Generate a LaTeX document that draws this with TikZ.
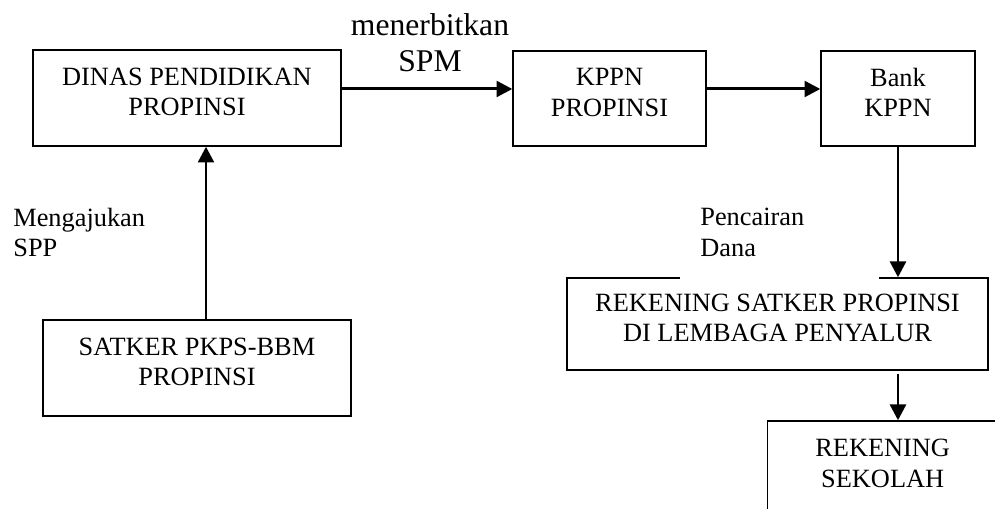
\documentclass[tikz,border=0pt]{standalone}
\usepackage{fontspec}
\setmainfont{Liberation Serif}
\usetikzlibrary{
  calc,
  positioning,
  arrows.meta
}

\begin{document}
\begin{tikzpicture}[x=0.02cm, y=0.02cm, >={Triangle[length=9pt,width=9pt]}]
  \tikzset{
    kotak/.style={draw, line width=0.8pt, align=center, inner sep=0pt,
      text depth=0.25cm, font=\fontsize{15}{17.5}\selectfont},
    panah/.style={->, line width=1.7pt},
    ket/.style={align=left, inner sep=0pt, font=\fontsize{15}{17.5}\selectfont},
    % judul/.style={font=\large}
  }
\useasboundingbox (0,0) rectangle (995,509);
\clip (0,0) rectangle (995,509);

\node[kotak, minimum width=6.16cm, minimum height=1.92cm] (dinas) at (187,411) {DINAS PENDIDIKAN\\PROPINSI};
\node[kotak, minimum width=3.86cm, minimum height=1.9cm] (kppn) at (609.5,410.5) {KPPN\\PROPINSI};
\node[kotak, minimum width=3.08cm, minimum height=1.9cm] (bank) at (898,410.5) {Bank\\KPPN};
\node[kotak, minimum width=6.16cm, minimum height=1.92cm] (satker) at (197,141) {SATKER PKPS-BBM\\PROPINSI};
\node[kotak, minimum width=8.42cm, minimum height=1.84cm] (rekprop) at (777.5,185) {REKENING SATKER PROPINSI\\DI LEMBAGA PENYALUR};
\node[kotak, text width=4.6cm, text height=0.72cm, text depth=3cm, anchor=base west] (sekolah) at (767,52) {REKENING\\SEKOLAH};

% keterangan
\node[align=center, inner sep=0pt, font=\fontsize{18}{21}\selectfont, anchor=base] (spm) at (430,437) {menerbitkan\\SPM};
\node[ket, anchor=base west] (ajukan) at (13,252) {Mengajukan\\SPP};
\node[ket, fill=white, text width=3.18cm, inner xsep=0.4cm, text depth=1.15cm, anchor=base west] (cair) at (680,283) {Pencairan\\Dana};

\coordinate (baris) at (0,420);
\coordinate (naik) at (206,0);

\draw[panah] (dinas.east |- baris) -- (kppn.west |- baris);
\draw[panah] (kppn.east |- baris) -- (bank.west |- baris);
\draw[panah] (satker.north -| naik) -- (dinas.south -| naik);
\draw[panah] (bank.south) -- (bank.south |- rekprop.north);
\draw[panah, shorten <=0.06cm] (rekprop.south -| bank.south) -- (sekolah.north -| bank.south);

\end{tikzpicture}
\end{document}
